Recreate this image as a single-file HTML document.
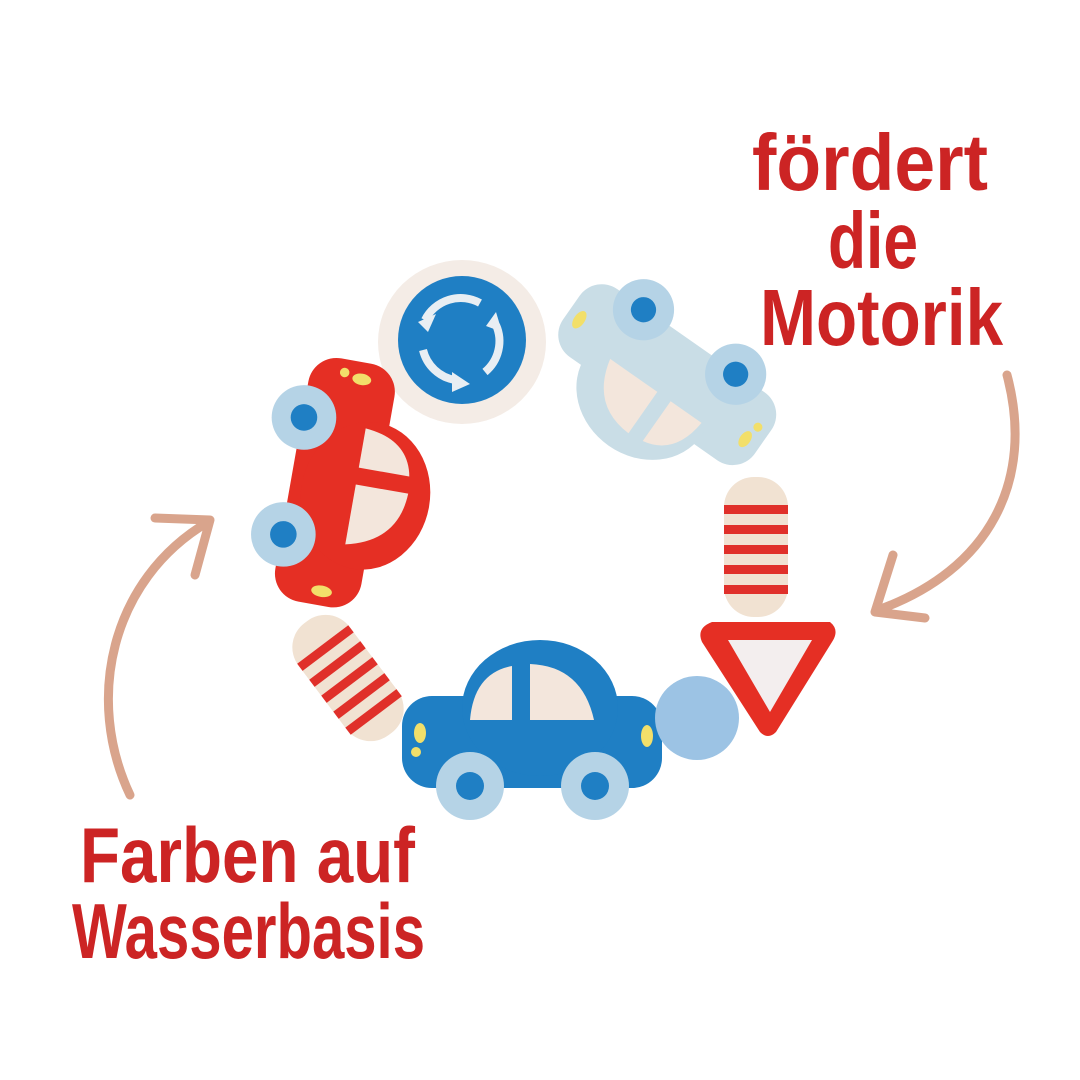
<!DOCTYPE html>
<html><head><meta charset="utf-8"><style>html,body{margin:0;padding:0;background:#fff}svg{display:block}</style></head>
<body>
<svg width="1080" height="1080" viewBox="0 0 1080 1080" xmlns="http://www.w3.org/2000/svg">
<defs>
<g id="car">
  <rect x="-130" y="-32" width="260" height="92" rx="30" fill="currentColor"/>
  <ellipse cx="8" cy="-20" rx="78" ry="68" fill="currentColor"/>
  <path d="M-20 -62 Q-58 -55 -62 -8 L-20 -8 Z" fill="#f3e6dc"/>
  <path d="M-2 -64 Q50 -62 62 -8 L-2 -8 Z" fill="#f3e6dc"/>
  <circle cx="-62" cy="58" r="34" fill="#b5d3e6"/>
  <circle cx="-62" cy="58" r="14" fill="#1f7fc4"/>
  <circle cx="63" cy="58" r="34" fill="#b5d3e6"/>
  <circle cx="63" cy="58" r="14" fill="#1f7fc4"/>
  <ellipse cx="-112" cy="5" rx="6" ry="10" fill="#f2df6a"/>
  <circle cx="-116" cy="24" r="5" fill="#f2df6a"/>
  <ellipse cx="115" cy="8" rx="6" ry="11" fill="#f2df6a"/>
</g>
<g id="bead">
  <rect x="-32" y="-70" width="64" height="140" rx="30" fill="#f1e2d2"/>
  <rect x="-32" y="-42" width="64" height="9" fill="#e0302a"/>
  <rect x="-32" y="-22" width="64" height="9" fill="#e0302a"/>
  <rect x="-32" y="-2" width="64" height="9" fill="#e0302a"/>
  <rect x="-32" y="18" width="64" height="9" fill="#e0302a"/>
  <rect x="-32" y="38" width="64" height="9" fill="#e0302a"/>
</g>
</defs>

<!-- roundabout disc -->
<ellipse cx="462" cy="342" rx="84" ry="82" fill="#f4ece6"/>
<circle cx="462" cy="340" r="64" fill="#1f7fc4"/>
<g fill="none" stroke="#e8eef3" stroke-width="8">
  <path d="M425 320 A40 40 0 0 1 480 303"/>
  <path d="M496 325 A40 40 0 0 1 485 372"/>
  <path d="M455 380 A40 40 0 0 1 423 350"/>
</g>
<g fill="#e8eef3">
  <path d="M418 322 L436 314 L428 332 Z"/>
  <path d="M496 312 L502 332 L486 326 Z"/>
  <path d="M470 384 L452 392 L452 372 Z"/>
</g>

<!-- light blue car -->
<g transform="translate(660,385) rotate(-145) scale(0.9)" color="#c9dde6"><use href="#car"/></g>
<!-- red car -->
<g transform="translate(348,485) rotate(100) scale(0.95)" color="#e52f24"><use href="#car"/></g>
<!-- blue car -->
<g transform="translate(532,728)" color="#1f7fc4"><use href="#car"/></g>

<!-- beads -->
<g transform="translate(756,547)"><use href="#bead"/></g>
<g transform="translate(348,678) rotate(-37)"><use href="#bead"/></g>

<!-- ball -->
<circle cx="697" cy="718" r="42" fill="#9cc3e4"/>
<!-- triangle -->
<path d="M712 622 L830 622 Q840 630 832 642 L776 732 Q768 740 760 732 L702 642 Q696 628 712 622 Z" fill="#e52f24"/>
<path d="M728 640 L812 640 L770 712 Z" fill="#f3eeee"/>

<!-- arrows -->
<g fill="none" stroke="#d9a48c" stroke-width="9" stroke-linecap="round" stroke-linejoin="round">
  <path d="M1007 375 C1035 480 990 570 878 610"/>
  <path d="M893 555 L875 612 L925 618"/>
  <path d="M130 795 C85 700 110 580 208 522"/>
  <path d="M155 518 L210 520 L195 575"/>
</g>

<!-- text -->
<g fill="#cc2424" font-family="'Liberation Sans', sans-serif" font-weight="bold">
  <text x="752" y="190" font-size="80" textLength="236" lengthAdjust="spacingAndGlyphs">fördert</text>
  <text x="828" y="268" font-size="80" textLength="90" lengthAdjust="spacingAndGlyphs">die</text>
  <text x="760" y="345" font-size="80" textLength="243" lengthAdjust="spacingAndGlyphs">Motorik</text>
  <text x="80" y="882" font-size="78" textLength="335" lengthAdjust="spacingAndGlyphs">Farben auf</text>
  <text x="72" y="958" font-size="78" textLength="353" lengthAdjust="spacingAndGlyphs">Wasserbasis</text>
</g>
</svg>
</body></html>
